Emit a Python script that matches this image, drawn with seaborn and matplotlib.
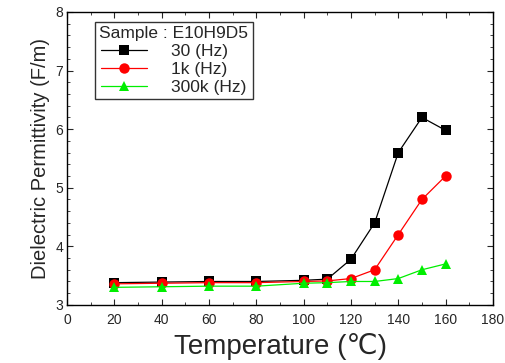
import numpy as np
import pandas as pd
import matplotlib
matplotlib.use('Agg')
import matplotlib.pyplot as plt
import seaborn as sns
from matplotlib.ticker import MultipleLocator

temps = [20, 40, 60, 80, 100, 110, 120, 130, 140, 150, 160]
eps_30 = [3.38, 3.39, 3.40, 3.40, 3.42, 3.44, 3.78, 4.40, 5.60, 6.20, 5.98]
eps_1k = [3.36, 3.37, 3.38, 3.38, 3.40, 3.41, 3.45, 3.60, 4.20, 4.80, 5.20]
eps_300k = [3.30, 3.31, 3.32, 3.32, 3.37, 3.38, 3.40, 3.40, 3.45, 3.60, 3.70]
labels = ['30 (Hz)', '1k (Hz)', '300k (Hz)']

df = pd.DataFrame({
    'T': temps * 3,
    'eps': eps_30 + eps_1k + eps_300k,
    'freq': [labels[0]] * 11 + [labels[1]] * 11 + [labels[2]] * 11,
})

sns.set_style('ticks')
plt.rcParams['font.family'] = ['Liberation Sans', 'DejaVu Sans']

fig = plt.figure(figsize=(5.05, 3.63), dpi=100)
ax = fig.add_axes([0.133, 0.160, 0.843, 0.807])

sns.lineplot(data=df, x='T', y='eps', hue='freq', style='freq',
             palette=['black', 'red', '#00ee00'],
             markers=['s', 'o', '^'], dashes=False,
             markersize=7.5, markeredgewidth=0, linewidth=0.9, ax=ax)

ax.set_xlim(0, 180)
ax.set_ylim(3, 8)
ax.xaxis.set_major_locator(MultipleLocator(20))
ax.xaxis.set_minor_locator(MultipleLocator(10))
ax.yaxis.set_major_locator(MultipleLocator(1))
ax.yaxis.set_minor_locator(MultipleLocator(0.2))
ax.tick_params(which='both', direction='in', top=True, right=True, labelsize=10)
ax.tick_params(axis='x', pad=6)
ax.tick_params(axis='y', pad=3)
ax.tick_params(which='major', length=4)
ax.tick_params(which='minor', length=2)
for s in ax.spines.values():
    s.set_linewidth(1.0)
    s.set_color('black')

ax.set_xlabel('Temperature (\u2103)', fontsize=20, labelpad=4)
ax.set_ylabel('Dielectric Permittivity (F/m)', fontsize=14.5, labelpad=4)

leg = ax.legend(title='Sample : E10H9D5', loc='upper left', bbox_to_anchor=(0.045, 0.995),
                fontsize=12.5, title_fontsize=12.5, frameon=True, fancybox=False,
                handlelength=2.6, borderpad=0.25, labelspacing=0.15, handletextpad=1.4)
leg.get_frame().set_edgecolor('black')
leg.get_frame().set_linewidth(1.0)

plt.savefig('out.png', dpi=100)
plt.close()
